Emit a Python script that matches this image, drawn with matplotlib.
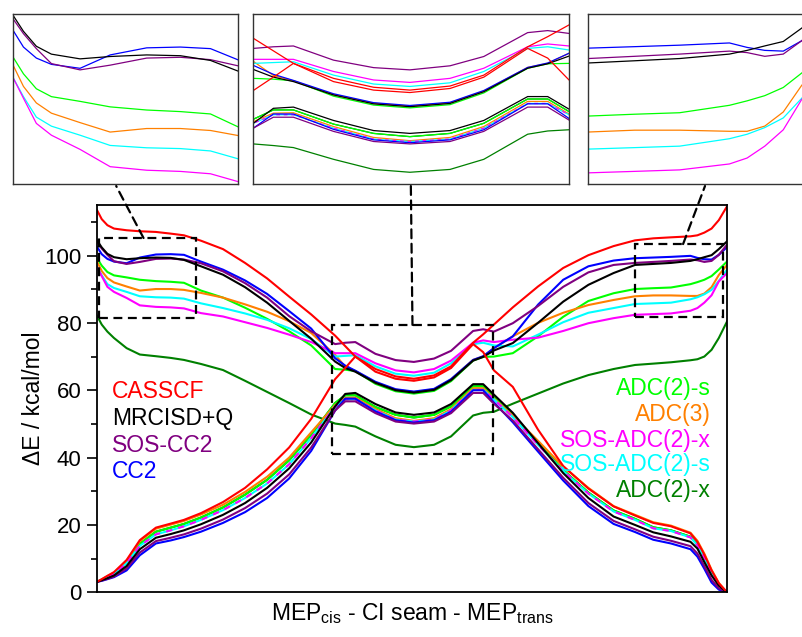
import matplotlib
matplotlib.use("Agg")
import matplotlib.pyplot as plt
from matplotlib.patches import Rectangle, ConnectionPatch

plt.rcParams['font.family'] = ['Liberation Sans', 'DejaVu Sans']

# reaction coordinate (MEP_cis 0-41, CI seam 41-59.7, MEP_trans 59.7-100)
x = [0, 0.75, 1.65, 2.7, 4.7, 6.8, 9.35, 11.7, 13.8, 16.5, 20, 23.5, 27, 30.5, 34, 37.8, 39.4, 41.0,
     44.2, 47.4, 50.3, 53.5, 56.2, 59.7, 61.3, 63.0,
     66, 70, 74, 78, 82, 85.4, 88.3, 91.1, 94.2, 95.3, 96.4, 97.55, 98.7, 100]

casscf_s1 = [113.5, 110.8, 109.0, 108.0, 107.5, 107.2, 107.0, 106.5, 106.0, 104.4, 101.9, 97.8, 93.2, 87.8, 82.5, 76.2, 73.1, 70.0,
             66.3, 64.1, 63.4, 64.4, 67.1, 74.1, 76.6, 79.5,
             84.6, 90.8, 96.3, 100.1, 102.8, 104.5, 105.1, 105.4, 105.7, 106.0, 106.8, 108.0, 110.5, 114.6]
casscf_s0 = [3.1, 3.9, 4.9, 6.0, 9.6, 15.5, 19.2, 20.4, 21.5, 23.5, 26.8, 31.0, 36.5, 43.0, 51.5, 63.3, 66.6, 70.0,
             65.5, 63.4, 62.8, 63.8, 66.6, 73.7, 71.3, 65.9,
             61.0, 48.3, 37.5, 30.8, 25.5, 22.8, 20.6, 19.6, 17.5, 15.0, 11.2, 6.5, 2.7, 0.0]
mrci_s1 = [104.5, 102.4, 100.5, 99.5, 98.9, 99.2, 99.4, 99.3, 98.7, 96.8, 94.3, 90.6, 86.0, 80.6, 75.3, 68.5, 66.6, 65.5,
           62.2, 60.0, 59.3, 60.1, 63.0, 68.8, 69.9, 71.8,
           74.0, 80.0, 86.3, 91.3, 94.8, 97.2, 97.5, 97.8, 98.4, 98.9, 99.5, 100.1, 101.9, 104.2]
mrci_s0 = [3.1, 3.6, 4.2, 5.0, 7.8, 12.8, 16.2, 17.3, 18.4, 20.2, 23.0, 26.5, 31.0, 36.8, 44.5, 55.2, 58.9, 59.2,
           55.9, 53.4, 52.7, 53.4, 55.9, 61.8, 61.8, 58.7,
           53.3, 44.3, 35.4, 28.0, 22.5, 20.0, 17.8, 16.6, 15.0, 13.0, 9.0, 5.0, 2.0, 0.0]
sos_cc2_s1 = [104.05, 102.1, 100.2, 98.3, 97.5, 98.1, 99.0, 99.1, 98.8, 97.7, 95.3, 91.8, 87.5, 82.0, 77.5, 73.7, 74.1, 74.3,
              70.8, 68.95, 68.4, 69.4, 71.7, 77.6, 78.1, 77.4,
              79.9, 85.0, 90.7, 95.0, 97.2, 97.8, 98.1, 98.4, 98.8, 98.6, 98.1, 98.4, 100.2, 103.2]
sos_cc2_s0 = [3.1, 3.5, 4.0, 4.7, 7.1, 11.8, 15.2, 16.2, 17.2, 18.9, 21.6, 25.0, 29.3, 35.0, 43.0, 54.0, 56.7, 56.7,
              53.2, 50.7, 50.1, 50.7, 53.2, 59.2, 59.2, 56.0,
              51.0, 42.5, 34.0, 26.5, 21.2, 18.7, 16.5, 15.3, 13.7, 11.5, 7.8, 3.7, 1.2, 0.0]
cc2_s1 = [102.6, 100.4, 99.0, 98.2, 97.7, 99.4, 100.3, 100.4, 100.2, 98.2, 95.8, 92.6, 88.6, 83.5, 78.3, 69.5, 67.3, 65.8,
          62.5, 60.3, 59.6, 60.4, 63.3, 69.0, 70.1, 72.5,
          76.0, 85.4, 92.8, 96.8, 98.5, 99.2, 99.4, 99.6, 99.9, 99.3, 98.9, 98.8, 100.2, 102.5]
cc2_s0 = [3.1, 3.4, 3.9, 4.5, 6.5, 11.0, 14.5, 15.4, 16.4, 18.0, 20.6, 23.8, 28.0, 33.8, 42.0, 54.0, 57.5, 57.5,
          53.7, 51.1, 50.4, 51.1, 53.6, 60.0, 60.0, 56.4,
          50.5, 41.8, 33.2, 25.6, 20.3, 17.9, 15.6, 14.5, 12.8, 10.6, 7.0, 2.9, 0.8, 0.0]
adc2s_s1 = [99.2, 97.0, 95.1, 94.1, 93.5, 92.8, 92.4, 92.2, 91.9, 89.6, 87.5, 84.5, 81.2, 77.5, 73.3, 66.3, 66.1, 65.7,
            61.9, 59.7, 59.0, 59.8, 62.7, 68.8, 69.9, 70.0,
            71.0, 76.0, 81.8, 86.5, 88.8, 90.05, 90.3, 90.5, 91.5, 92.1, 92.8, 93.9, 95.85, 98.2]
adc2s_s0 = [3.1, 3.75, 4.6, 5.6, 8.9, 14.4, 18.0, 19.2, 20.3, 22.2, 25.2, 29.0, 33.4, 39.2, 46.8, 56.2, 58.5, 58.5,
            55.0, 52.7, 51.9, 52.7, 55.2, 61.2, 61.2, 58.1,
            52.7, 44.3, 36.3, 29.6, 24.3, 21.8, 19.3, 18.4, 16.5, 14.2, 10.5, 5.9, 2.3, 0.0]
adc3_s1 = [98.2, 95.4, 93.3, 92.0, 90.8, 89.6, 90.05, 90.05, 89.8, 88.9, 87.5, 85.5, 83.3, 80.5, 77.0, 70.5, 67.0, 65.7,
           62.3, 60.15, 59.45, 60.25, 63.15, 69.0, 70.0, 72.5,
           76.0, 80.0, 83.0, 85.3, 86.8, 87.9, 88.15, 88.15, 88.0, 88.0, 88.7, 90.6, 94.2, 97.2]
adc3_s0 = [3.1, 3.8, 4.8, 5.8, 9.3, 15.2, 18.9, 20.1, 21.2, 23.1, 26.0, 29.8, 34.3, 40.0, 47.5, 55.6, 57.7, 57.8,
           54.4, 51.7, 50.9, 51.7, 54.4, 60.6, 60.6, 57.5,
           52.5, 45.0, 37.3, 31.0, 25.6, 23.0, 20.8, 19.8, 17.7, 15.3, 11.5, 6.7, 2.8, 0.0]
sos_adc2x_s1 = [96.6, 93.9, 90.7, 89.2, 87.4, 85.2, 84.75, 84.6, 84.3, 82.9, 81.9, 80.2, 78.5, 76.5, 74.3, 71.0, 71.0, 71.0,
                68.0, 65.9, 65.3, 66.3, 68.8, 74.1, 74.8, 74.3,
                75.0, 75.6, 77.6, 79.9, 81.4, 82.4, 82.6, 82.8, 83.6, 84.4, 86.0, 88.2, 92.3, 94.8]
sos_adc2x_s0 = [3.1, 3.7, 4.5, 5.5, 8.6, 13.8, 17.2, 18.4, 19.6, 21.5, 24.4, 28.0, 32.3, 38.0, 45.8, 55.2, 57.3, 57.3,
                54.0, 51.3, 50.7, 51.3, 54.0, 60.1, 60.1, 57.3,
                52.0, 43.8, 36.0, 29.3, 24.0, 21.5, 19.0, 18.2, 16.3, 14.0, 10.3, 5.7, 2.2, 0.0]
sos_adc2s_s1 = [96.6, 94.1, 91.5, 90.35, 89.2, 87.9, 87.6, 87.5, 87.2, 85.8, 84.4, 82.8, 80.9, 78.4, 75.2, 70.0, 70.2, 70.4,
                67.1, 64.9, 64.3, 65.2, 68.0, 73.7, 74.1, 73.3,
                73.0, 76.5, 80.2, 83.0, 84.4, 85.6, 85.8, 86.0, 87.0, 87.6, 88.5, 89.8, 92.45, 95.8]
sos_adc2s_s0 = [3.1, 3.7, 4.5, 5.5, 8.6, 13.8, 17.2, 18.4, 19.6, 21.5, 24.4, 28.0, 32.3, 38.0, 45.8, 55.2, 57.3, 57.3,
                54.0, 51.3, 50.7, 51.3, 54.0, 60.1, 60.1, 57.3,
                52.0, 43.8, 36.0, 29.3, 24.0, 21.5, 19.0, 18.2, 16.3, 14.0, 10.3, 5.7, 2.2, 0.0]
adc2x_s1 = [82.1, 79.5, 77.4, 75.5, 72.5, 70.6, 70.1, 69.6, 69.0, 67.8, 66.0, 62.8, 59.5, 56.2, 52.8, 50.1, 49.7, 49.2,
            46.3, 43.8, 43.1, 43.8, 46.3, 52.5, 53.3, 53.6,
            56.0, 59.0, 62.0, 64.5, 66.3, 67.5, 67.9, 68.3, 68.9, 69.2, 70.0, 72.0, 75.5, 80.4]
adc2x_s0 = [3.1, 3.75, 4.6, 5.6, 8.9, 14.4, 18.0, 19.2, 20.3, 22.2, 25.2, 29.0, 33.4, 39.2, 46.8, 56.2, 58.5, 58.5,
            55.0, 52.7, 51.9, 52.7, 55.2, 61.2, 61.2, 58.1,
            52.7, 44.3, 36.3, 29.6, 24.3, 21.8, 19.3, 18.4, 16.5, 14.2, 10.5, 5.9, 2.3, 0.0]

left_labels = ["CASSCF", "MRCISD+Q", "SOS-CC2", "CC2"]
left_colors = ["#ff0000", "#000000", "#800080", "#0000ff"]
right_labels = ["ADC(2)-s", "ADC(3)", "SOS-ADC(2)-x", "SOS-ADC(2)-s", "ADC(2)-x"]
right_colors = ["#00ff00", "#ff8000", "#ff00ff", "#00ffff", "#008000"]
yticks = [0, 20, 40, 60, 80, 100]

# (s0, s1, color, s0 dashed?) in drawing order
series = [
    (adc2x_s0, adc2x_s1, "#008000", False),
    (adc2s_s0, adc2s_s1, "#00ff00", False),
    (adc3_s0, adc3_s1, "#ff8000", False),
    (sos_adc2s_s0, sos_adc2s_s1, "#00ffff", False),
    (sos_adc2x_s0, sos_adc2x_s1, "#ff00ff", True),
    (cc2_s0, cc2_s1, "#0000ff", False),
    (sos_cc2_s0, sos_cc2_s1, "#800080", False),
    (mrci_s0, mrci_s1, "#000000", False),
    (casscf_s0, casscf_s1, "#ff0000", False),
]

def draw(a, lw):
    for s0, s1, c, dashed in series:
        a.plot(x, s1, color=c, lw=lw, solid_joinstyle='round')
        if dashed:
            a.plot(x, s0, color=c, lw=lw, ls=(0, (3, 3)))
        else:
            a.plot(x, s0, color=c, lw=lw, solid_joinstyle='round')

W, H = 802, 637
fig = plt.figure(figsize=(W / 100, H / 100), dpi=100)

ax = fig.add_axes([97 / W, 1 - 592.3 / H, 630 / W, (592.3 - 205) / H])
draw(ax, 1.5)
ax.set_xlim(0, 100)
ax.set_ylim(0, 115)
ax.set_xticks([])
ax.set_yticks(yticks)
ax.set_yticks([10, 30, 50, 70, 90, 110], minor=True)
ax.tick_params(axis='y', which='major', direction='out', length=7, width=1.2, labelsize=16, pad=4)
ax.tick_params(axis='y', which='minor', direction='out', length=4, width=1.2)
for sp in ax.spines.values():
    sp.set_linewidth(1.3)

for lab, c, yp in zip(left_labels, left_colors, [391, 418, 445, 471]):
    fig.text(112 / W, 1 - yp / H, lab, color=c, fontsize=16.5, ha='left', va='center')
for lab, c, yp in zip(right_labels, right_colors, [389, 415, 440, 465, 491]):
    fig.text(711 / W, 1 - yp / H, lab, color=c, fontsize=16.5, ha='right', va='center')

fig.text(33 / W, 1 - 398 / H, "\u0394E / kcal/mol", rotation=90, fontsize=16.5, ha='center', va='center')
fig.text(412 / W, 1 - 614 / H, "MEP$_{\\mathregular{cis}}$ - CI seam - MEP$_{\\mathregular{trans}}$",
         fontsize=16.5, ha='center', va='center')

# zoom boxes in main axes: (x0, x1, y0, y1)
boxes = [(0.3, 15.7, 81.4, 105.2), (37.25, 62.9, 41.0, 79.4), (85.4, 99.4, 81.6, 103.4)]
# inset axes positions (pixels) and limits
insets = [
    ((12.7, 14, 225, 170), (0, 15.7), (83.0, 104.6)),
    ((252.7, 14, 316.3, 170), (37.75, 63.0), (40.2, 82.2)),
    ((588, 14, 225, 170), (85.4, 99.4), (80.9, 103.8)),
]
conn = [(0.46, 0.46), (0.5, 0.5), (0.545, 0.52)]

for (bx0, bx1, by0, by1), ((px, py, pw, ph), xl, yl), (fa, fb) in zip(boxes, insets, conn):
    ax.add_patch(Rectangle((bx0, by0), bx1 - bx0, by1 - by0, fill=False, ec='black',
                           lw=1.6, ls=(0, (4, 2.5)), zorder=5))
    ia = fig.add_axes([px / W, 1 - (py + ph) / H, pw / W, ph / H])
    draw(ia, 0.9)
    ia.set_xlim(*xl)
    ia.set_ylim(*yl)
    ia.set_xticks([])
    ia.set_yticks([])
    for sp in ia.spines.values():
        sp.set_linewidth(1.0)
        sp.set_color('#333333')
    cp = ConnectionPatch(xyA=(bx0 + fa * (bx1 - bx0), by1), coordsA=ax.transData,
                         xyB=(fb, -0.012), coordsB=ia.transAxes,
                         color='black', lw=1.6, ls=(0, (4, 2.5)))
    fig.add_artist(cp)

fig.savefig("out.png", dpi=100)
